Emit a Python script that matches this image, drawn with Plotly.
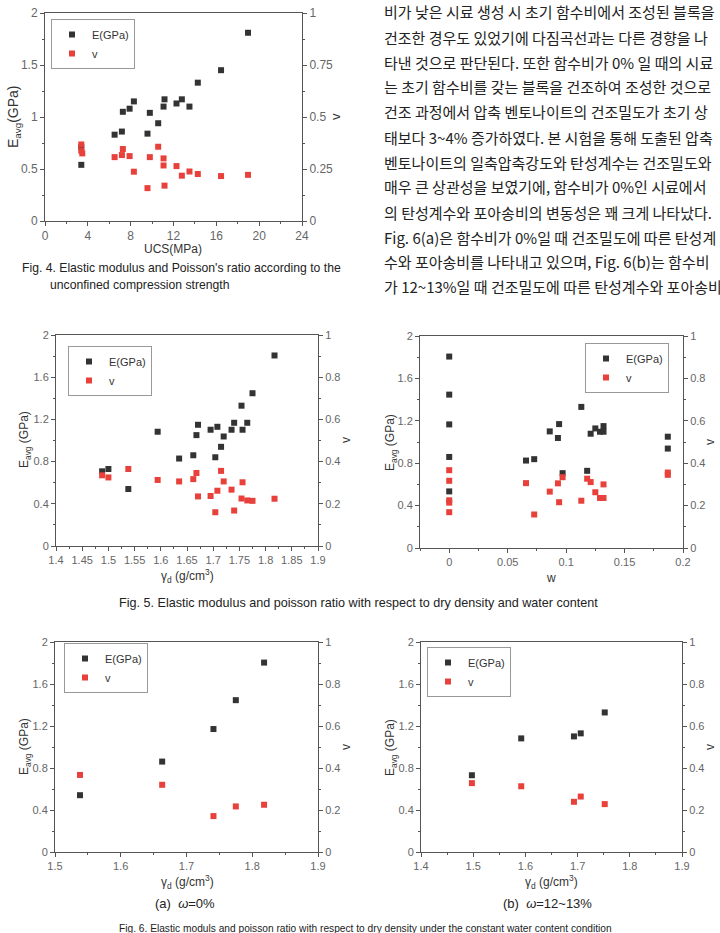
import plotly.graph_objects as go

W, H = 720, 933

# ---------------- data ----------------
# Fig. 4 : UCS vs E / v
ucs_E = [3.39, 3.39, 6.5, 7.18, 7.27, 7.9, 8.3, 9.57, 9.79, 10.57, 11.07, 11.16, 12.28, 12.78, 13.49, 14.27, 16.44, 18.96]
E_ucs = [0.54, 0.71, 0.83, 0.86, 1.05, 1.08, 1.15, 0.84, 1.04, 0.94, 1.10, 1.17, 1.13, 1.17, 1.10, 1.33, 1.45, 1.81]
ucs_v = [3.39, 3.39, 3.48, 6.5, 7.18, 7.27, 7.9, 8.3, 9.57, 9.79, 10.57, 11.07, 11.07, 11.16, 12.28, 12.78, 13.49, 14.27, 16.44, 18.96]
v_ucs = [0.368, 0.338, 0.325, 0.307, 0.317, 0.346, 0.312, 0.237, 0.158, 0.307, 0.357, 0.301, 0.267, 0.17, 0.264, 0.218, 0.238, 0.226, 0.216, 0.222]

# Fig. 5(left) : dry density vs E / v
dens = [1.488, 1.500, 1.538, 1.594, 1.635, 1.662, 1.668, 1.671, 1.695, 1.704,
        1.708, 1.715, 1.720, 1.735, 1.740, 1.754, 1.756, 1.765, 1.775, 1.817]
E_dens = [0.708, 0.730, 0.540, 1.083, 0.829, 0.860, 1.051, 1.149, 1.102, 0.841,
          1.130, 0.940, 1.038, 1.102, 1.168, 1.330, 1.102, 1.168, 1.448, 1.806]
v_dens = [0.335, 0.325, 0.365, 0.313, 0.306, 0.317, 0.346, 0.235, 0.237, 0.160,
          0.262, 0.356, 0.306, 0.267, 0.168, 0.225, 0.302, 0.216, 0.214, 0.224]

# Fig. 5(right) : water content vs E / v
wc = [0, 0, 0, 0, 0, 0.0657, 0.0727, 0.086, 0.093, 0.094, 0.097, 0.113, 0.118,
      0.121, 0.125, 0.129, 0.132, 0.132, 0.187, 0.187]
E_wc = [1.806, 1.447, 1.166, 0.859, 0.534, 0.825, 0.838, 1.100, 1.038, 1.169,
        0.706, 1.331, 0.728, 1.078, 1.128, 1.097, 1.150, 1.097, 1.050, 0.938]
v_wc = [0.367, 0.317, 0.225, 0.214, 0.169, 0.306, 0.158, 0.266, 0.305, 0.216,
        0.334, 0.223, 0.327, 0.311, 0.263, 0.236, 0.236, 0.300, 0.356, 0.345]

# Fig. 6(a) : w = 0 %
dens_w0 = [1.538, 1.663, 1.741, 1.775, 1.818]
E_w0 = [0.541, 0.861, 1.171, 1.446, 1.804]
v_w0 = [0.367, 0.320, 0.171, 0.217, 0.225]

# Fig. 6(b) : w = 12~13 %
dens_w12 = [1.4975, 1.592, 1.693, 1.706, 1.752]
E_w12 = [0.731, 1.082, 1.101, 1.130, 1.329]
v_w12 = [0.328, 0.313, 0.239, 0.264, 0.228]

korean_lines = [
    "비가 낮은 시료 생성 시 초기 함수비에서 조성된 블록을",
    "건조한 경우도 있었기에 다짐곡선과는 다른 경향을 나",
    "타낸 것으로 판단된다. 또한 함수비가 0% 일 때의 시료",
    "는 초기 함수비를 갖는 블록을 건조하여 조성한 것으로",
    "건조 과정에서 압축 벤토나이트의 건조밀도가 초기 상",
    "태보다 3~4% 증가하였다. 본 시험을 통해 도출된 압축",
    "벤토나이트의 일축압축강도와 탄성계수는 건조밀도와",
    "매우 큰 상관성을 보였기에, 함수비가 0%인 시료에서",
    "의 탄성계수와 포아송비의 변동성은 꽤 크게 나타났다.",
    "Fig. 6(a)은 함수비가 0%일 때 건조밀도에 따른 탄성계",
    "수와 포아송비를 나타내고 있으며, Fig. 6(b)는 함수비",
    "가 12~13%일 때 건조밀도에 따른 탄성계수와 포아송비를",
]

# ---------------- helpers ----------------
BLACK = "#333333"
RED = "#e8403b"
TICKC = "#666666"
LINEC = "#555555"
SANS = "Liberation Sans, Arial, sans-serif"
NARROW = "Liberation Sans Narrow, Arial Narrow, Liberation Sans, Arial, sans-serif"


def fx(p):
    return p / W


def fy(p):
    return 1 - p / H


panels = [
    dict(box=(45, 302, 13, 221), xr=[0, 24], xd=4, xm=2, x0=0, yd=0.5, ym=0.25, y2d=0.25, y2m=0.125, ts=12),
    dict(box=(56, 318, 335, 546), xr=[1.4, 1.9], xd=0.05, xm=0.025, x0=1.4, yd=0.4, ym=0.2, y2d=0.2, y2m=0.1, ts=11),
    dict(box=(420, 683, 336, 548), xr=[-0.025, 0.2], xd=0.05, xm=0.025, x0=0, yd=0.4, ym=0.2, y2d=0.2, y2m=0.1, ts=11),
    dict(box=(55, 318, 642, 852), xr=[1.5, 1.9], xd=0.1, xm=0.05, x0=1.5, yd=0.4, ym=0.2, y2d=0.2, y2m=0.1, ts=11),
    dict(box=(421, 682, 642, 852), xr=[1.4, 1.9], xd=0.1, xm=0.05, x0=1.4, yd=0.4, ym=0.2, y2d=0.2, y2m=0.1, ts=11),
]

series = [
    (ucs_E, E_ucs, ucs_v, v_ucs),
    (dens, E_dens, dens, v_dens),
    (wc, E_wc, wc, v_wc),
    (dens_w0, E_w0, dens_w0, v_w0),
    (dens_w12, E_w12, dens_w12, v_w12),
]

legend_pos = [
    dict(x=fx(51), y=fy(19), xanchor="left"),
    dict(x=fx(68), y=fy(346), xanchor="left"),
    dict(x=fx(669), y=fy(343), xanchor="right"),
    dict(x=fx(64), y=fy(643), xanchor="left"),
    dict(x=fx(427), y=fy(647), xanchor="left"),
]

fig = go.Figure()
layout = dict(
    width=W, height=H, margin=dict(l=0, r=0, t=0, b=0),
    paper_bgcolor="white", plot_bgcolor="white",
    showlegend=True,
)

for i, (p, s) in enumerate(zip(panels, series), start=1):
    l, r, t, b = p["box"]
    xa = f"x{i}" if i > 1 else "x"
    ya = f"y{i}" if i > 1 else "y"
    y2 = f"y{i + 5}"
    leg = "legend" if i == 1 else f"legend{i}"
    fig.add_trace(go.Scatter(x=s[0], y=s[1], mode="markers", name="E(GPa)",
                             marker=dict(symbol="square", size=6, color=BLACK),
                             xaxis=xa, yaxis=ya, legend=leg))
    fig.add_trace(go.Scatter(x=s[2], y=s[3], mode="markers", name="v",
                             marker=dict(symbol="square", size=6, color=RED),
                             xaxis=xa, yaxis=y2, legend=leg))
    tf = dict(family=SANS, size=p["ts"], color=TICKC)
    common = dict(showline=True, linecolor=LINEC, linewidth=1, ticks="outside", ticklen=4,
                  tickcolor=LINEC, tickfont=tf, showgrid=False, zeroline=False,
                  automargin=False, fixedrange=True)
    xkey = "xaxis" if i == 1 else f"xaxis{i}"
    ykey = "yaxis" if i == 1 else f"yaxis{i}"
    layout[xkey] = dict(common, domain=[fx(l), fx(r)], range=p["xr"], tick0=p["x0"], dtick=p["xd"],
                        anchor=ya, mirror=True,
                        minor=dict(ticks="outside", ticklen=2, tickcolor=LINEC, dtick=p["xm"], tick0=p["x0"], showgrid=False))
    layout[ykey] = dict(common, domain=[fy(b), fy(t)], range=[0, 2], tick0=0, dtick=p["yd"],
                        anchor=xa, side="left",
                        minor=dict(ticks="outside", ticklen=2, tickcolor=LINEC, dtick=p["ym"], tick0=0, showgrid=False))
    layout[f"yaxis{i + 5}"] = dict(common, range=[0, 1], tick0=0, dtick=p["y2d"],
                                   anchor=xa, overlaying=ya, side="right",
                                   minor=dict(ticks="outside", ticklen=2, tickcolor=LINEC, dtick=p["y2m"], tick0=0, showgrid=False))
    lp = legend_pos[i - 1]
    layout[leg] = dict(lp, yanchor="top", bgcolor="white", bordercolor="#999999", borderwidth=1,
                       font=dict(family=SANS, size=11, color="#333333"),
                       itemwidth=30, tracegroupgap=0, itemclick=False, itemdoubleclick=False)

fig.update_layout(**layout)

ann = []


def add_text(x, y, text, size=12, angle=0, family=SANS, color="#333333", xanchor="center"):
    ann.append(dict(x=fx(x), y=fy(y), xref="paper", yref="paper", text=text, showarrow=False,
                    textangle=angle, xanchor=xanchor, yanchor="middle",
                    font=dict(family=family, size=size, color=color)))


EAVG = "E<sub>avg</sub>(GPa)"
EAVG2 = "E<sub>avg</sub> (GPa)"
GAMMA = "γ<sub>d</sub> (g/cm<sup>3</sup>)"

# Fig. 4 axis titles
add_text(14, 117, EAVG, size=14, angle=-90)
add_text(173, 249, "UCS(MPa)", size=12)
add_text(336, 117, "v", size=13, angle=-90)
# Fig. 5 left
add_text(25, 440, EAVG2, size=12, angle=-90)
add_text(187, 576, GAMMA, size=12)
add_text(346, 440, "v", size=12, angle=-90)
# Fig. 5 right
add_text(391, 442, EAVG2, size=12, angle=-90)
add_text(551, 578, "w", size=12)
add_text(710, 442, "v", size=12, angle=-90)
# Fig. 6 (a)
add_text(25, 747, EAVG2, size=12, angle=-90)
add_text(187, 882, GAMMA, size=12)
add_text(346, 747, "v", size=12, angle=-90)
# Fig. 6 (b)
add_text(391, 747, EAVG2, size=12, angle=-90)
add_text(551, 882, GAMMA, size=12)
add_text(710, 747, "v", size=12, angle=-90)

# sub-captions
add_text(185, 903, "(a)  <i>ω</i>=0%", size=13, family=NARROW, color="#222222")
add_text(547, 903, "(b)  <i>ω</i>=12~13%", size=13, family=NARROW, color="#222222")

# figure captions
add_text(20, 268, "Fig. 4. Elastic modulus and Poisson's ratio according to the", size=12.2, family=NARROW,
         color="#222222", xanchor="left")
add_text(48, 285, "unconfined compression strength", size=12.2, family=NARROW, color="#222222", xanchor="left")
add_text(117, 603, "Fig. 5. Elastic modulus and poisson ratio with respect to dry density and water content",
         size=12.6, family=NARROW, color="#222222", xanchor="left")
add_text(117, 928, "Fig. 6. Elastic moduls and poisson ratio with respect to dry density under the constant water content condition",
         size=10.2, family=NARROW, color="#222222", xanchor="left")

# Korean body text (right column, clipped at the page edge)
for k, line in enumerate(korean_lines):
    add_text(382, 12 + 25 * k, line, size=15, family="Noto Sans CJK KR", color="#222222", xanchor="left")

fig.update_layout(annotations=ann)
fig.write_html("out.html")
